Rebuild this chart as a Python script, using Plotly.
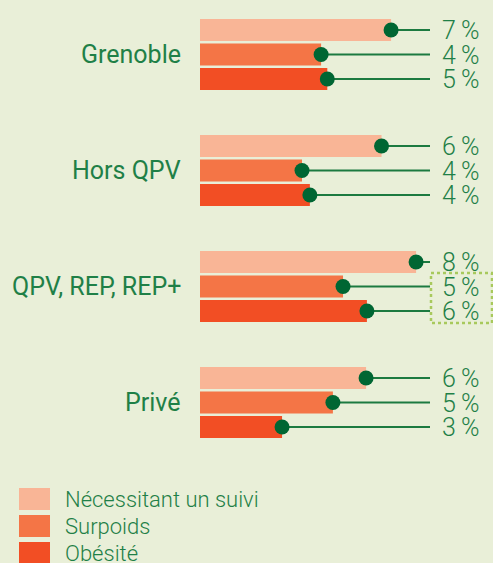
import plotly.graph_objects as go

# ---- data (percent values) ----
categories = ["Grenoble", "Hors QPV", "QPV, REP, REP+", "Privé"]
series_names = ["Nécessitant un suivi", "Surpoids", "Obésité"]
suivi = [6.80, 6.46, 7.69, 5.91]
surpoids = [4.31, 3.63, 5.09, 4.73]
obesite = [4.53, 3.91, 5.94, 2.92]
series_values = [suivi, surpoids, obesite]

# ---- styles ----
W, H = 493, 563
BG = "#e9efd8"
GREEN_TXT = "#1f8047"
DOT = "#006633"
LINE = "#1c7a40"
BAR_COLORS = ["#f9b596", "#f47546", "#f24e24"]
FONT = "Roboto"

S = 28.1          # pixels per percent
X0 = 200          # pixel where 0 % sits
def px_to_x(px):
    return (px - X0) / S

GROUP0, GROUP_STEP, BAR_STEP, BAR_H = 54.5, 116, 24.5, 22
LINE_END = px_to_x(430)
LABEL_X = px_to_x(441)

fig = go.Figure()

for si, (name, vals) in enumerate(zip(series_names, series_values)):
    ys = [GROUP0 + GROUP_STEP * gi + (si - 1) * BAR_STEP for gi in range(len(categories))]
    fig.add_trace(go.Bar(
        x=vals, y=ys, orientation="h", width=BAR_H, base=0,
        marker=dict(color=BAR_COLORS[si], line=dict(width=0)),
        name=name, showlegend=False, hoverinfo="skip"))
    for v, y in zip(vals, ys):
        fig.add_trace(go.Scatter(
            x=[v, LINE_END], y=[y, y], mode="lines",
            line=dict(color=LINE, width=2), showlegend=False, hoverinfo="skip"))
        fig.add_annotation(
            x=LABEL_X, y=y + 0.5, xref="x", yref="y", text=f"{round(v)}\u2009%",
            showarrow=False, xanchor="left", yanchor="middle", borderpad=0,
            font=dict(family=FONT, size=25, color=GREEN_TXT, weight=300))
    fig.add_trace(go.Scatter(
        x=vals, y=ys, mode="markers",
        marker=dict(color=DOT, size=15, line=dict(width=0)),
        showlegend=False, hoverinfo="skip"))

# category labels
for gi, cat in enumerate(categories):
    fig.add_annotation(
        x=px_to_x(183), y=GROUP0 + GROUP_STEP * gi, xref="x", yref="y",
        text=cat, showarrow=False, xanchor="right", yanchor="middle",
        font=dict(family=FONT, size=25, color=GREEN_TXT))

# dotted highlight box around QPV values
fig.add_shape(type="rect", xref="x", yref="y",
              x0=px_to_x(431), x1=px_to_x(492), y0=273, y1=323,
              line=dict(color="#a8c95c", width=2.5, dash="dot"))

# custom legend
legend_rows = [(488, 510), (515, 537), (542, 564)]
for (t, b), name, col in zip(legend_rows, series_names, BAR_COLORS):
    fig.add_shape(type="rect", xref="x", yref="y",
                  x0=px_to_x(19), x1=px_to_x(50), y0=t, y1=b,
                  fillcolor=col, line=dict(width=0))
    fig.add_annotation(x=px_to_x(63), y=(t + b) / 2, xref="x", yref="y",
                       text=name, showarrow=False, xanchor="left", yanchor="middle",
                       font=dict(family=FONT, size=22, color=GREEN_TXT, weight=300))

fig.update_layout(
    width=W, height=H, margin=dict(l=0, r=0, t=0, b=0),
    paper_bgcolor=BG, plot_bgcolor=BG, barmode="overlay",
    xaxis=dict(range=[px_to_x(0), px_to_x(W)], visible=False, fixedrange=True),
    yaxis=dict(range=[H, 0], visible=False, fixedrange=True),
    showlegend=False)

fig.write_html("out.html", config={"displayModeBar": False})

# remove the default page margin so the figure fills the window
with open("out.html", encoding="utf-8") as f:
    html = f.read()
html = html.replace("<body>", '<body style="margin:0;overflow:hidden;background:#e9efd8">', 1)
html = html.replace("<head>", "<head><style>html,body{margin:0;padding:0;}</style>", 1)
with open("out.html", "w", encoding="utf-8") as f:
    f.write(html)
